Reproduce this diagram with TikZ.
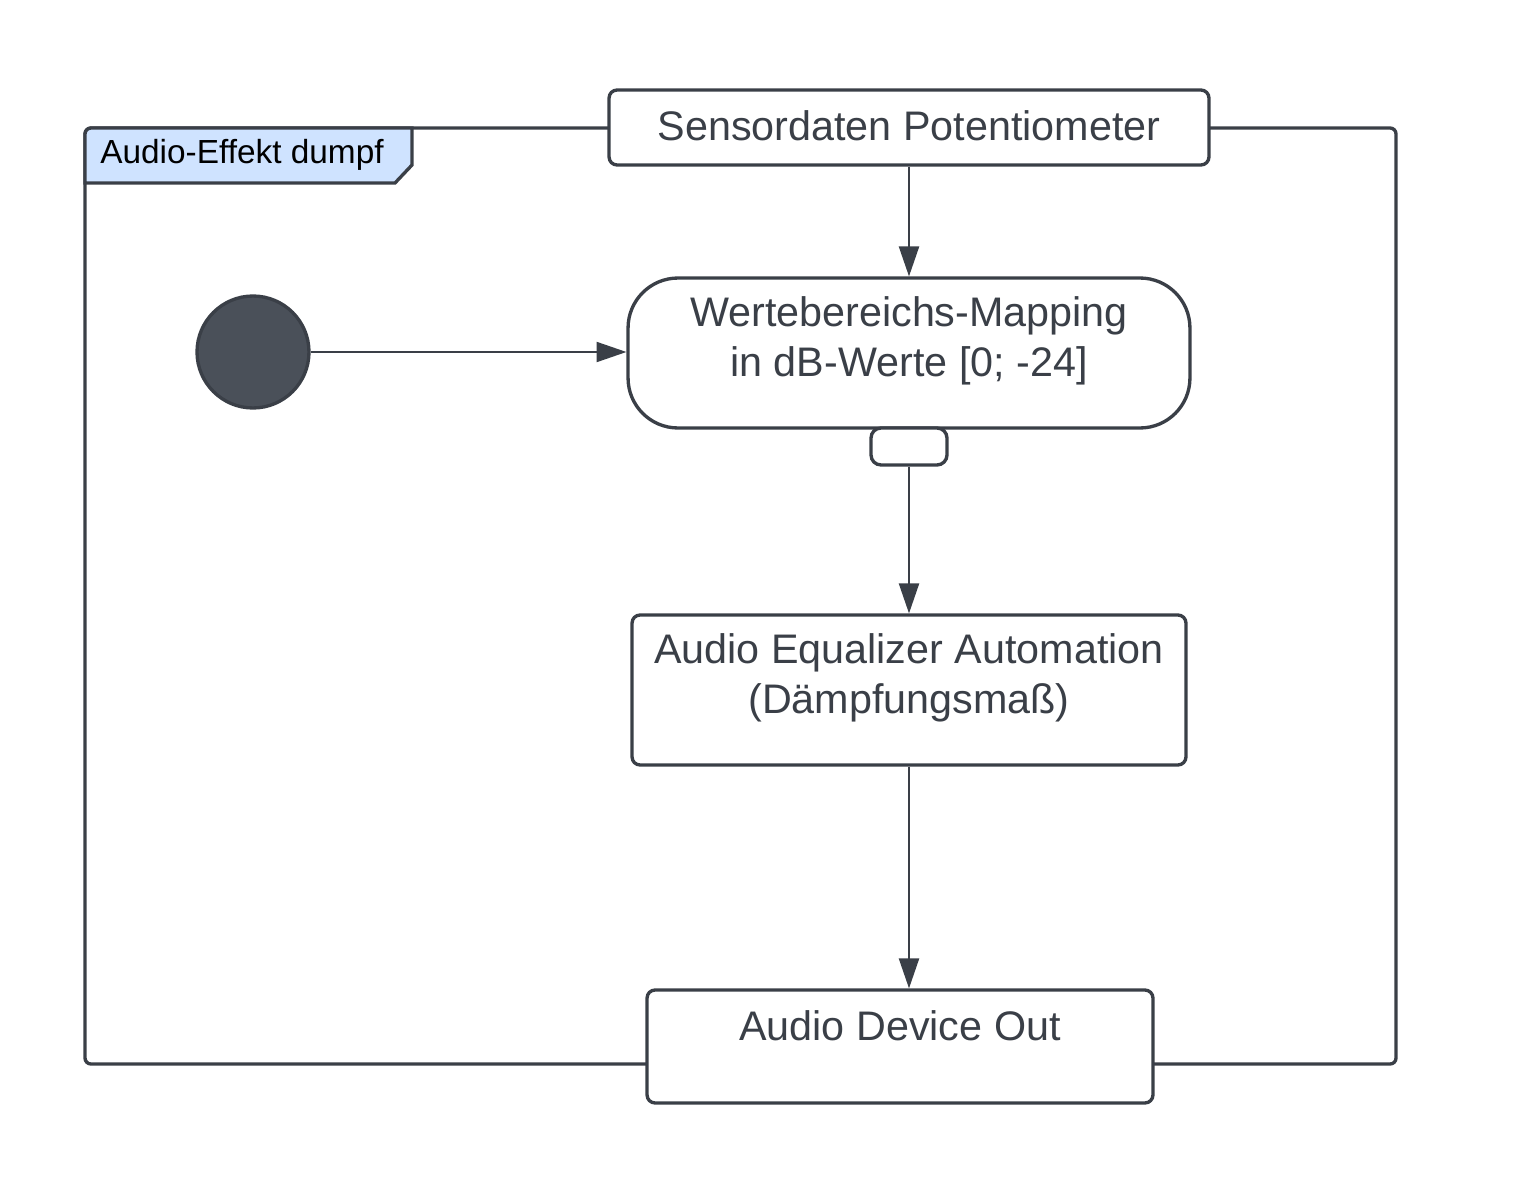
\documentclass[tikz,border=0pt]{standalone}
\usepackage{fontspec}
\setmainfont{Liberation Sans}
\usetikzlibrary{arrows.meta}
\definecolor{ink}{HTML}{3A3F47}
\definecolor{initfill}{HTML}{4A5059}
\definecolor{tabfill}{HTML}{CFE3FF}
\begin{document}
\begin{tikzpicture}[x=0.02cm,y=-0.02cm,
  box/.style={draw=ink, line width=1.9pt, fill=white, rounded corners=0.16cm, inner sep=0pt},
  lbl/.style={text=ink, font=\fontsize{23.5}{28.5}\selectfont, align=center, inner sep=0pt},
  flow/.style={draw=ink, line width=0.8pt, -{Triangle[length=17pt,width=11.5pt]}}]
\useasboundingbox (0,0) rectangle (1521,1193);
% frame
\draw[ink, line width=1.9pt, rounded corners=0.12cm] (85,128) rectangle (1396,1064);
\filldraw[draw=ink, fill=tabfill, line width=1.9pt] (85,183) [rounded corners=0.12cm] -- (85,128) [sharp corners] -- (412,128) -- (412,165) -- (395,183) -- cycle;
\node[anchor=west, inner sep=0pt, font=\fontsize{19}{23}\selectfont, text=black] (tabtext) at (100,155) {Audio-Effekt dumpf};
% boxes
\node[box, minimum width=12cm, minimum height=1.5cm] (sens) at (909,127.5) {};
\node[lbl] (senstext) at (909,126) {Sensordaten Potentiometer};
\node[box, rounded corners=1cm, minimum width=11.24cm, minimum height=3cm] (map) at (909,353) {};
\node[lbl] (maptext) at (909,341) {Wertebereichs-Mapping\\in dB-Werte [0; -24]};
\node[box, rounded corners=0.2cm, minimum width=1.52cm, minimum height=0.74cm] (pin) at (909,446.5) {};
\node[box, minimum width=11.08cm, minimum height=3cm] (eq) at (909,690) {};
\node[lbl] (eqtext) at (909,678) {Audio Equalizer Automation\\(Dämpfungsmaß)};
\node[box, minimum width=10.12cm, minimum height=2.26cm] (out) at (900,1046.5) {};
\node[lbl] (outtext) at (900,1026) {Audio Device Out};
\node[circle, draw=ink, fill=initfill, line width=1.9pt, minimum size=2.24cm, inner sep=0pt] (init) at (253,352) {};
% connectors
\draw[flow] (sens.south) -- (map.north);
\draw[flow] (init.east) -- (init.east -| map.west);
\draw[flow] (pin.south) -- (eq.north);
\draw[flow] (eq.south) -- (eq.south |- out.north);
\end{tikzpicture}
\end{document}
